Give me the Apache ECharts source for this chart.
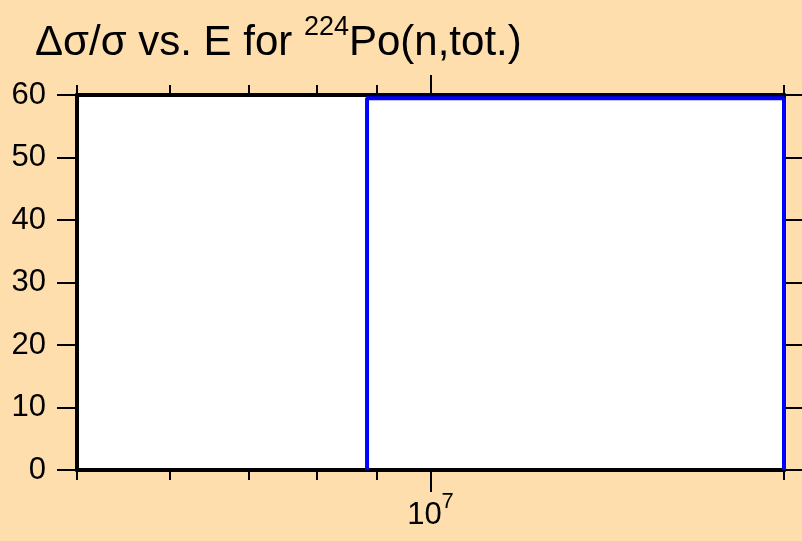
<!DOCTYPE html>
<html>
<head>
<meta charset="utf-8">
<script src="https://cdn.jsdelivr.net/npm/echarts@6/dist/echarts.min.js"></script>
<style>
  html, body { margin: 0; padding: 0; background: #fddeac; }
  #chart { width: 802px; height: 541px; }
</style>
</head>
<body>
<div id="chart"></div>
<script>
// energy (eV) and relative uncertainty (%) of the step curve
var energy = [8.83e6, 8.83e6, 2e7, 2e7];
var relErr = [0, 59.5, 59.5, 0];

// axis ticks
var minorTicks = [5e6, 6e6, 7e6, 8e6, 9e6, 2e7];
var majorTicks = [1e7];
var xMin = 5e6, xMax = 2e7;
var yMin = 0, yMax = 60, yStep = 10;

var fontName = "'Liberation Sans', Arial, sans-serif";

var points = [];
for (var i = 0; i < energy.length; i++) {
  points.push([energy[i], relErr[i]]);
}

function xAxisDef(position, ticks, len, showLabel) {
  return {
    type: 'log',
    logBase: 10,
    position: position,
    min: xMin,
    max: xMax,
    axisLine: { show: true, lineStyle: { color: '#000', width: 4 } },
    axisTick: {
      show: true, inside: false, length: len, customValues: ticks,
      lineStyle: { color: '#000', width: 2 }
    },
    axisLabel: showLabel ? {
      show: true,
      customValues: ticks,
      margin: 21,
      formatter: function (v) { return '{b|10}{s|' + Math.round(Math.log10(v)) + '}'; },
      rich: {
        b: { fontSize: 31, fontFamily: fontName, color: '#000', lineHeight: 40, verticalAlign: 'bottom' },
        s: { fontSize: 22, fontFamily: fontName, color: '#000', lineHeight: 22, verticalAlign: 'top' }
      }
    } : { show: false },
    splitLine: { show: false },
    minorTick: { show: false },
    minorSplitLine: { show: false }
  };
}

function yAxisDef(position, showLabel) {
  return {
    type: 'value',
    position: position,
    min: yMin,
    max: yMax,
    interval: yStep,
    axisLine: { show: true, lineStyle: { color: '#000', width: 4 } },
    axisTick: { show: true, inside: false, length: 20, lineStyle: { color: '#000', width: 2 } },
    axisLabel: {
      show: showLabel,
      margin: 31,
      fontSize: 31,
      fontFamily: fontName,
      color: '#000'
    },
    splitLine: { show: false }
  };
}

var chart = echarts.init(document.getElementById('chart'));
var option = {
  backgroundColor: '#fddeac',
  animation: false,
  title: {
    left: 30,
    top: 9,
    text: '{a|\u0394\u03c3/\u03c3 vs. E for }{s|224}{a|Po(n,tot.)}',
    textStyle: {
      fontWeight: 'normal',
      rich: {
        a: { fontSize: 42, fontWeight: 'normal', fontFamily: fontName, color: '#000', lineHeight: 50, verticalAlign: 'bottom' },
        s: { fontSize: 27, fontWeight: 'normal', fontFamily: fontName, color: '#000', lineHeight: 27, verticalAlign: 'top' }
      }
    }
  },
  grid: {
    left: 77,
    right: 18,
    top: 95,
    bottom: 71,
    show: true,
    backgroundColor: '#fff',
    borderWidth: 0
  },
  xAxis: [
    xAxisDef('bottom', minorTicks, 10, false),
    xAxisDef('bottom', majorTicks, 22, true),
    xAxisDef('top', minorTicks, 10, false),
    xAxisDef('top', majorTicks, 20, false)
  ],
  yAxis: [
    yAxisDef('left', true),
    yAxisDef('right', false)
  ],
  series: [
    {
      type: 'line',
      xAxisIndex: 0,
      yAxisIndex: 0,
      data: points,
      showSymbol: false,
      symbol: 'none',
      lineStyle: { color: '#0000ff', width: 4 },
      z: 5
    }
  ]
};
chart.setOption(option);
</script>
</body>
</html>
